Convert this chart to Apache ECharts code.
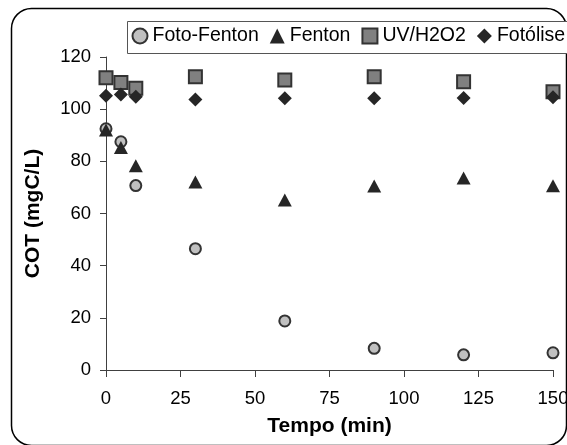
<!DOCTYPE html>
<html>
<head>
<meta charset="utf-8">
<script src="https://cdn.jsdelivr.net/npm/echarts@6/dist/echarts.min.js"></script>
<style>
    html, body { margin: 0; padding: 0; background: #fff; }
    #chart { width: 567px; height: 445px; }
</style>
</head>
<body>
<div id="chart"></div>
<script>
// tempo (min)
const tempo = [0, 5, 10, 30, 60, 90, 120, 150];

// COT (mgC/L) por processo
const fotoFenton = [92.5, 87.5, 70.7, 46.5, 18.8, 8.3, 5.8, 6.6];
const fenton = [92, 85.3, 78.3, 72.1, 65.2, 70.5, 73.6, 70.6];
const uvH2O2 = [112, 110.2, 108, 112.4, 111.2, 112.4, 110.5, 106.7];
const fotolise = [105.1, 105.6, 104.8, 103.7, 104.2, 104.2, 104.3, 104.6];

const seriesNames = ['Foto-Fenton', 'Fenton', 'UV/H2O2', 'Fotólise'];
const xTicks = [0, 25, 50, 75, 100, 125, 150];
const yTicks = [0, 20, 40, 60, 80, 100, 120];

const font = 'Liberation Sans, Arial, sans-serif';

const pairs = (ys) => tempo.map((t, i) => [t, ys[i]]);

const chart = echarts.init(document.getElementById('chart'));

const option = {
    animation: false,
    backgroundColor: '#fff',
    textStyle: { fontFamily: font },
    graphic: [
        {
            // moldura externa
            type: 'rect',
            shape: { x: 11.5, y: 8.5, width: 555, height: 437, r: 20 },
            style: { fill: 'none', stroke: '#000', lineWidth: 1.5 },
            silent: true,
            z: -1
        },
        {
            // caixa da legenda (sai pela direita)
            type: 'rect',
            shape: { x: 127.5, y: 21.5, width: 460, height: 32 },
            style: { fill: '#fff', stroke: '#555', lineWidth: 1 },
            silent: true,
            z: 1
        }
    ],
    legend: {
        data: seriesNames,
        left: 127,
        top: 21,
        padding: [5, 2, 5, 4.5],
        itemWidth: 15,
        itemHeight: 15,
        itemGap: 11,
        z: 5,
        textStyle: { fontSize: 19.5, fontFamily: font, color: '#000' }
    },
    grid: {
        left: 106,
        right: 14,
        top: 57,
        bottom: 75,
        outerBoundsMode: 'none'
    },
    xAxis: {
        type: 'value',
        min: xTicks[0],
        max: xTicks[xTicks.length - 1],
        interval: 25,
        name: 'Tempo (min)',
        nameLocation: 'middle',
        nameGap: 46,
        nameTextStyle: { fontSize: 21, fontWeight: 'bold', color: '#000', fontFamily: font },
        axisLine: { lineStyle: { color: '#404040', width: 1 } },
        axisTick: { length: 7, lineStyle: { color: '#404040' } },
        axisLabel: { fontSize: 18.5, color: '#000', margin: 19, fontFamily: font },
        splitLine: { show: false }
    },
    yAxis: {
        type: 'value',
        min: yTicks[0],
        max: yTicks[yTicks.length - 1],
        interval: 20,
        name: 'COT (mgC/L)',
        nameLocation: 'middle',
        nameGap: 62,
        nameTextStyle: { fontSize: 21, fontWeight: 'bold', color: '#000', fontFamily: font },
        axisLine: { show: true, lineStyle: { color: '#404040', width: 1 } },
        axisTick: { show: true, length: 6, lineStyle: { color: '#404040' } },
        axisLabel: { fontSize: 18.5, color: '#000', margin: 15, fontFamily: font },
        splitLine: { show: false }
    },
    series: [
        {
            name: 'Foto-Fenton',
            type: 'scatter',
            symbol: 'circle',
            symbolSize: 11,
            itemStyle: { color: '#c0c0c0', borderColor: '#333', borderWidth: 2, opacity: 1 },
            data: pairs(fotoFenton)
        },
        {
            name: 'Fenton',
            type: 'scatter',
            symbol: 'triangle',
            symbolSize: [14, 13],
            itemStyle: { color: '#262626', opacity: 1 },
            data: pairs(fenton)
        },
        {
            name: 'UV/H2O2',
            type: 'scatter',
            symbol: 'rect',
            symbolSize: 13,
            itemStyle: { color: '#808080', borderColor: '#333', borderWidth: 2, opacity: 1 },
            data: pairs(uvH2O2)
        },
        {
            name: 'Fotólise',
            type: 'scatter',
            symbol: 'diamond',
            symbolSize: 14,
            itemStyle: { color: '#262626', opacity: 1 },
            data: pairs(fotolise)
        }
    ]
};

chart.setOption(option);
</script>
</body>
</html>
